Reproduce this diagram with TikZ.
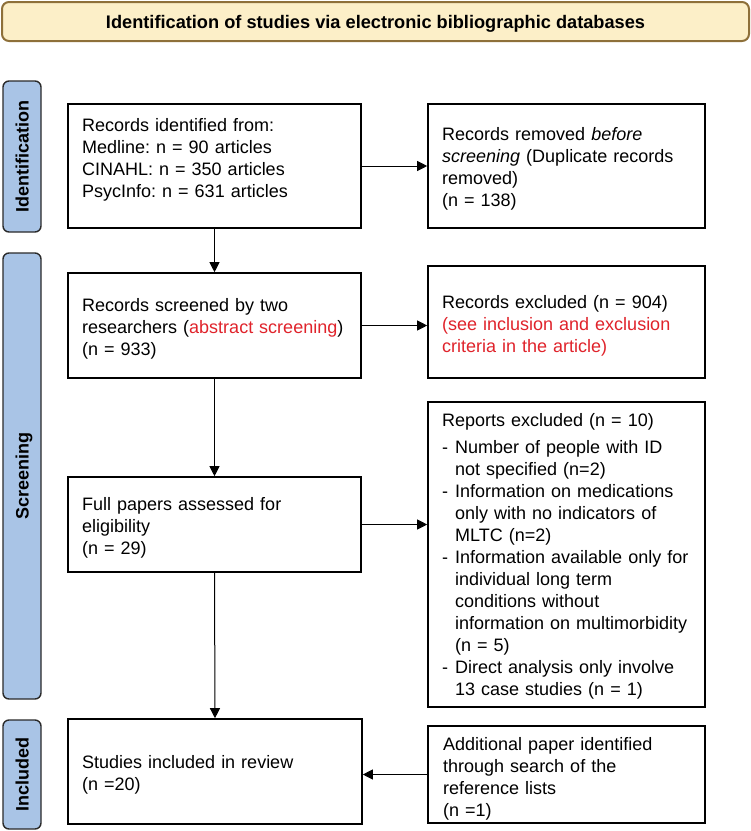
\documentclass[tikz,border=0pt]{standalone}
\usepackage{fontspec}
\setmainfont{Liberation Sans}
\usetikzlibrary{arrows.meta}
\definecolor{titlefill}{HTML}{FCEFC8}
\definecolor{titledraw}{HTML}{8E703A}
\definecolor{sidefill}{HTML}{A9C4E6}
\definecolor{sidedraw}{HTML}{2A2A2A}
\definecolor{redtxt}{HTML}{E0232B}
\newcommand\mybul{\makebox[13pt][l]{-}}
\newcommand\myind{\hspace*{13pt}}
\frenchspacing
\begin{document}
\begin{tikzpicture}[x=1pt,y=-1pt,
  box/.style={draw=black, line width=1.6pt, rectangle, inner sep=0pt, fill=white},
  txt/.style={anchor=base west, inner sep=0pt, text width=270pt, align=left, font=\fontsize{18}{22}\selectfont\frenchspacing},
  side/.style={draw=sidedraw, line width=1.4pt, fill=sidefill, rounded corners=6pt, rotate=90, inner sep=0pt, font=\fontsize{18}{22}\selectfont\bfseries, text height=13pt, text depth=0pt},
  arr/.style={-{Triangle[length=10pt,width=10pt]}, line width=1pt}
]
\useasboundingbox (0,0) rectangle (751,831);

% title
\node[draw=titledraw, line width=2pt, fill=titlefill, rounded corners=7pt, minimum width=747pt, minimum height=39pt, inner sep=0pt, font=\fontsize{18.2}{22}\selectfont\bfseries, text height=14pt, text depth=0pt] (title) at (375.5,21.5) {Identification of studies via electronic bibliographic databases};

% side bars
\node[side, minimum width=151pt, minimum height=38pt] (sid) at (22,156.5) {Identification};
\node[side, minimum width=446pt, minimum height=38pt] (ssc) at (22,476) {Screening};
\node[side, minimum width=109pt, minimum height=38pt] (sin) at (22,774.5) {Included};

% boxes
\node[box, minimum width=293pt, minimum height=124pt] (b1) at (214.5,166) {};
\node[box, minimum width=277pt, minimum height=124pt] (b2) at (566.5,166) {};
\node[box, minimum width=293pt, minimum height=105pt] (b3) at (214.5,325.5) {};
\node[box, minimum width=277pt, minimum height=112pt] (b4) at (566.5,322) {};
\node[box, minimum width=277pt, minimum height=305pt] (b5) at (566.5,554.5) {};
\node[box, minimum width=293pt, minimum height=95pt] (b6) at (214.5,524.5) {};
\node[box, minimum width=294pt, minimum height=105pt] (b7) at (215,771.5) {};
\node[box, minimum width=277pt, minimum height=97pt] (b8) at (566.5,774.5) {};

% texts
\node[txt] (t1) at (82,131) {Records identified from:\\Medline: n = 90 articles\\CINAHL: n = 350 articles\\PsycInfo: n = 631 articles};
\node[txt] (t2) at (442,140) {Records removed \textit{before}\\\textit{screening} (Duplicate records\\removed)\\(n = 138)};
\node[txt] (t3) at (82,311) {Records screened by two\\researchers (\textcolor{redtxt}{abstract screening})\\(n = 933)};
\node[txt] (t4) at (442,308.3) {Records excluded (n = 904)\\\textcolor{redtxt}{(see inclusion and exclusion}\\\textcolor{redtxt}{criteria in the article)}};
\node[txt] (t5) at (442,426) {Reports excluded (n = 10)\\[5pt]
\mybul Number of people with ID\\
\myind not specified (n=2)\\
\mybul Information on medications\\
\myind only with no indicators of\\
\myind MLTC (n=2)\\
\mybul Information available only for\\
\myind individual long term\\
\myind conditions without\\
\myind information on multimorbidity\\
\myind (n = 5)\\
\mybul Direct analysis only involve\\
\myind 13 case studies (n = 1)};
\node[txt] (t6) at (82,510.7) {Full papers assessed for\\eligibility\\(n = 29)};
\node[txt] (t7) at (82,768.3) {Studies included in review\\(n =20)};
\node[txt] (t8) at (443,750) {Additional paper identified\\through search of the\\reference lists\\(n =1)};

% connectors
\draw[arr] (b1.south) -- (b3.north);
\draw[arr] (b1.east) -- (b2.west);
\draw[arr] (b3.east) -- (b3.east -| b4.west);
\draw[arr] (b3.south) -- (b6.north);
\draw[arr] (b6.east) -- (b6.east -| b5.west);
\draw[arr] (b6.south) -- (b7.north);
\draw[arr] (b8.west) -- (b8.west -| b7.east);
\end{tikzpicture}
\end{document}
